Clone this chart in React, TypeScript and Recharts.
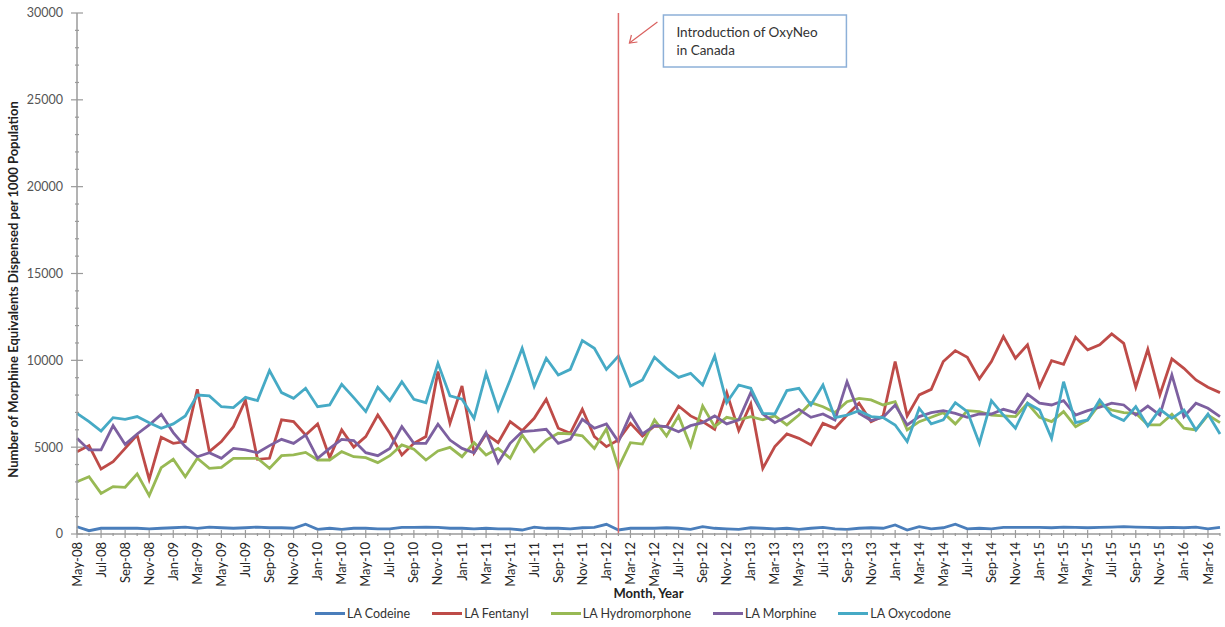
import React from 'react';
import { LineChart, Line, XAxis, YAxis, ReferenceLine, Legend, Label } from 'recharts';

const MONTHS = [
  'May-08', 'Jun-08', 'Jul-08', 'Aug-08', 'Sep-08', 'Oct-08', 'Nov-08', 'Dec-08',
  'Jan-09', 'Feb-09', 'Mar-09', 'Apr-09', 'May-09', 'Jun-09', 'Jul-09', 'Aug-09', 'Sep-09', 'Oct-09', 'Nov-09', 'Dec-09',
  'Jan-10', 'Feb-10', 'Mar-10', 'Apr-10', 'May-10', 'Jun-10', 'Jul-10', 'Aug-10', 'Sep-10', 'Oct-10', 'Nov-10', 'Dec-10',
  'Jan-11', 'Feb-11', 'Mar-11', 'Apr-11', 'May-11', 'Jun-11', 'Jul-11', 'Aug-11', 'Sep-11', 'Oct-11', 'Nov-11', 'Dec-11',
  'Jan-12', 'Feb-12', 'Mar-12', 'Apr-12', 'May-12', 'Jun-12', 'Jul-12', 'Aug-12', 'Sep-12', 'Oct-12', 'Nov-12', 'Dec-12',
  'Jan-13', 'Feb-13', 'Mar-13', 'Apr-13', 'May-13', 'Jun-13', 'Jul-13', 'Aug-13', 'Sep-13', 'Oct-13', 'Nov-13', 'Dec-13',
  'Jan-14', 'Feb-14', 'Mar-14', 'Apr-14', 'May-14', 'Jun-14', 'Jul-14', 'Aug-14', 'Sep-14', 'Oct-14', 'Nov-14', 'Dec-14',
  'Jan-15', 'Feb-15', 'Mar-15', 'Apr-15', 'May-15', 'Jun-15', 'Jul-15', 'Aug-15', 'Sep-15', 'Oct-15', 'Nov-15', 'Dec-15',
  'Jan-16', 'Feb-16', 'Mar-16', 'Apr-16',
];

const CODEINE = [
  420, 190, 330, 330, 330, 330, 300, 330, 360, 400, 330, 400, 360, 330, 360, 400, 360, 360, 330, 560, 270, 330, 270, 330,
  330, 300, 300, 380, 380, 400, 380, 330, 330, 300, 330, 300, 300, 230, 400, 330, 330, 300, 360, 380, 560, 230,
  330, 330, 330, 360, 330, 270, 420, 330, 300, 270, 360, 330, 300, 330, 270, 330, 380, 300, 270, 330, 360, 330, 520, 230,
  420, 300, 360, 560, 300, 330, 300, 380, 380, 380, 380, 360, 400, 380, 360, 380, 400, 420, 400, 380, 360, 380, 360, 400, 300, 380,
];

const FENTANYL = [
  4740, 5090, 3740, 4170, 4930, 5700, 3150, 5570, 5220, 5320, 8330, 4740, 5320, 6180, 7700, 4300, 4360, 6570, 6470, 5700, 6340, 4400, 5990, 5000,
  5610, 6850, 5800, 4550, 5220, 5610, 9350, 6370, 8520, 4680, 5760, 5260, 6470, 5950, 6660, 7760, 6090, 5800, 7180, 5610, 5030, 5410,
  6370, 5640, 6220, 6180, 7370, 6800, 6470, 6030, 8140, 5950, 7490, 3780, 5030, 5760, 5510, 5130, 6370, 6090, 6850, 7530, 6470, 6800, 9930, 6800,
  8010, 8330, 9930, 10560, 10180, 8930, 9930, 11370, 10120, 10890, 8490, 9980, 9770, 11330, 10600, 10890, 11520, 10980, 8450, 10640, 8010, 10080, 9540, 8870, 8450, 8140,
];

const HYDROMORPHONE = [
  3010, 3300, 2340, 2730, 2690, 3460, 2210, 3820, 4300, 3300, 4360, 3780, 3840, 4360, 4360, 4360, 3780, 4510, 4550, 4700, 4260, 4260, 4740, 4450,
  4400, 4110, 4510, 5130, 4880, 4260, 4780, 4990, 4450, 5260, 4550, 4930, 4360, 5700, 4740, 5410, 5800, 5760, 5650, 4930, 6050, 3820,
  5260, 5180, 6570, 5640, 6800, 5070, 7370, 6180, 6720, 6570, 6760, 6570, 6800, 6280, 6850, 7560, 7330, 6990, 7620, 7810, 7720, 7430, 7620, 5990,
  6470, 6720, 6990, 6340, 7100, 7050, 6850, 6800, 6760, 7530, 6720, 6470, 7050, 6180, 6570, 7490, 7140, 6990, 6950, 6280, 6280, 6890, 6090, 5990, 6850, 6410,
];

const MORPHINE = [
  5510, 4840, 4840, 6240, 5160, 5760, 6280, 6890, 5840, 5030, 4450, 4680, 4360, 4930, 4840, 4680, 5090, 5450, 5220, 5700, 4360, 4930, 5450, 5380,
  4680, 4510, 4930, 6180, 5220, 5220, 6320, 5410, 4930, 4680, 5840, 4110, 5220, 5890, 5950, 6030, 5220, 5450, 6600, 6090, 6340, 5320,
  6890, 5760, 6240, 6180, 5890, 6240, 6410, 6800, 6340, 6570, 8140, 6910, 6410, 6760, 7180, 6720, 6910, 6570, 8770, 6950, 6530, 6720, 7430, 6280,
  6760, 6990, 7100, 6950, 6720, 6910, 6910, 7180, 6990, 8050, 7530, 7430, 7680, 6850, 7100, 7300, 7530, 7430, 6850, 7370, 6850, 9160, 6760, 7530, 7240, 6760,
];

const OXYCODONE = [
  6950, 6470, 5930, 6700, 6600, 6760, 6410, 6090, 6340, 6800, 8000, 7950, 7330, 7280, 7870, 7680, 9410, 8140, 7810, 8390, 7330, 7430, 8620, 7850,
  7050, 8450, 7680, 8770, 7760, 7560, 9830, 7950, 7760, 6660, 9250, 7140, 8870, 10690, 8490, 10120, 9160, 9480, 11140, 10690, 9480, 10250,
  8520, 8870, 10180, 9540, 9020, 9250, 8580, 10250, 7560, 8580, 8390, 6950, 6910, 8260, 8390, 7430, 8580, 6700, 6850, 7100, 6760, 6700, 6280, 5320,
  7240, 6340, 6570, 7560, 7050, 5220, 7680, 6850, 6090, 7530, 7140, 5510, 8770, 6410, 6570, 7720, 6850, 6530, 7330, 6220, 7180, 6660, 7140, 5990, 6910, 5760,
];

const Y_TICKS = [
  0, 1000, 2000, 3000, 4000, 5000, 6000, 7000, 8000, 9000, 10000, 11000, 12000, 13000, 14000, 15000,
  16000, 17000, 18000, 19000, 20000, 21000, 22000, 23000, 24000, 25000, 26000, 27000, 28000, 29000, 30000,
];

const INTRO_MONTH = 'Feb-12';
const NOTE_LINES = ['Introduction of OxyNeo', 'in Canada'];

const SERIES = [
  { key: 'codeine', name: 'LA Codeine', color: '#4A7EBB', values: CODEINE },
  { key: 'fentanyl', name: 'LA Fentanyl', color: '#BE4B48', values: FENTANYL },
  { key: 'hydromorphone', name: 'LA Hydromorphone', color: '#98B954', values: HYDROMORPHONE },
  { key: 'morphine', name: 'LA Morphine', color: '#7D60A0', values: MORPHINE },
  { key: 'oxycodone', name: 'LA Oxycodone', color: '#46AAC5', values: OXYCODONE },
];

const data = MONTHS.map((month, i) => {
  const row: Record<string, string | number> = { month };
  SERIES.forEach((s) => {
    row[s.key] = s.values[i];
  });
  return row;
});

const AXIS = '#9a9a9a';

function MonthTick(props: any) {
  const { x, y, index, payload } = props;
  const major = index % 2 === 0;
  const ty = y + 8;
  return (
    <g>
      <line x1={x} x2={x} y1={major ? y - 4 : y - 1} y2={major ? y + 4 : y + 2} stroke={AXIS} strokeWidth={1.2} />
      {major && (
        <text
          x={x}
          y={ty}
          dy="0.35em"
          transform={`rotate(-90 ${x} ${ty})`}
          textAnchor="end"
          fontSize={13}
          fill="#262626"
        >
          {payload.value}
        </text>
      )}
    </g>
  );
}

function ValueTick(props: any) {
  const { x, y, payload } = props;
  const major = payload.value % 5000 === 0;
  return (
    <g>
      <line x1={major ? x - 6 : x - 2} x2={major ? x + 6 : x + 2} y1={y} y2={y} stroke={AXIS} strokeWidth={1.2} />
      {major && (
        <text x={x - 14} y={y} dy="0.35em" textAnchor="end" fontSize={12.5} fill="#555">
          {payload.value}
        </text>
      )}
    </g>
  );
}

function OxyNeoNote(props: any) {
  const { viewBox } = props;
  const x = viewBox.x;
  return (
    <g>
      <line x1={x + 39} y1={22} x2={x + 11} y2={43} stroke="#D9605E" strokeWidth={1.2} />
      <polyline
        points={`${x + 13},${35} ${x + 11},${43} ${x + 19},${42}`}
        fill="none"
        stroke="#D9605E"
        strokeWidth={1.2}
      />
      <rect x={x + 45} y={15} width={183} height={52} fill="#fff" stroke="#8DB0D8" strokeWidth={1.5} />
      <text x={x + 58} y={37} fontSize={13.5} fill="#333">
        {NOTE_LINES[0]}
      </text>
      <text x={x + 58} y={55} fontSize={13.5} fill="#333">
        {NOTE_LINES[1]}
      </text>
    </g>
  );
}

function LegendRow() {
  return (
    <div
      style={{
        display: 'flex',
        justifyContent: 'center',
        alignItems: 'center',
        height: 20,
        paddingLeft: 46,
        fontSize: 12.5,
        color: '#333',
      }}
    >
      {SERIES.map((s) => (
        <div key={s.key} style={{ display: 'flex', alignItems: 'center', margin: '0 11px' }}>
          <span style={{ display: 'inline-block', width: 30, height: 3, background: s.color, marginRight: 2 }} />
          <span>{s.name}</span>
        </div>
      ))}
    </div>
  );
}

export default function App() {
  return (
    <div
      style={{
        position: 'absolute',
        left: 0,
        top: 0,
        width: 1225,
        height: 627,
        background: '#fff',
        fontFamily: 'Lato, "Open Sans", sans-serif',
      }}
    >
      <LineChart width={1225} height={627} data={data} margin={{ top: 13, right: 5, bottom: 4, left: 0 }}>
        <XAxis
          dataKey="month"
          interval={0}
          height={69}
          tickSize={0}
          tickMargin={0}
          tickLine={false}
          tick={<MonthTick />}
          axisLine={{ stroke: AXIS, strokeWidth: 1.5 }}
        >
          <Label
            content={(p: any) => (
              <text
                x={p.viewBox.x + p.viewBox.width / 2}
                y={p.viewBox.y + 64}
                textAnchor="middle"
                fontSize={13}
                fontWeight="bold"
                fill="#222"
              >
                Month, Year
              </text>
            )}
          />
        </XAxis>
        <YAxis
          width={77}
          domain={[0, 30000]}
          ticks={Y_TICKS}
          interval={0}
          tickSize={0}
          tickMargin={0}
          tickLine={false}
          tick={<ValueTick />}
          axisLine={{ stroke: AXIS, strokeWidth: 1.5 }}
        >
          <Label
            content={(p: any) => {
              const cx = p.viewBox.x + 13;
              const cy = p.viewBox.y + p.viewBox.height / 2 + 16;
              return (
                <text
                  x={cx}
                  y={cy}
                  dy="0.35em"
                  transform={`rotate(-90 ${cx} ${cy})`}
                  textAnchor="middle"
                  fontSize={13}
                  fontWeight="bold"
                  fill="#222"
                >
                  Number of Morphine Equivalents Dispensed per 1000 Population
                </text>
              );
            }}
          />
        </YAxis>
        <Legend verticalAlign="bottom" height={20} content={() => <LegendRow />} />
        {SERIES.map((s) => (
          <Line
            key={s.key}
            type="linear"
            dataKey={s.key}
            name={s.name}
            stroke={s.color}
            strokeWidth={2.8}
            dot={false}
            isAnimationActive={false}
          />
        ))}
        <ReferenceLine x={INTRO_MONTH} stroke="#DD6B6B" strokeWidth={1.5} label={<OxyNeoNote />} />
      </LineChart>
    </div>
  );
}
